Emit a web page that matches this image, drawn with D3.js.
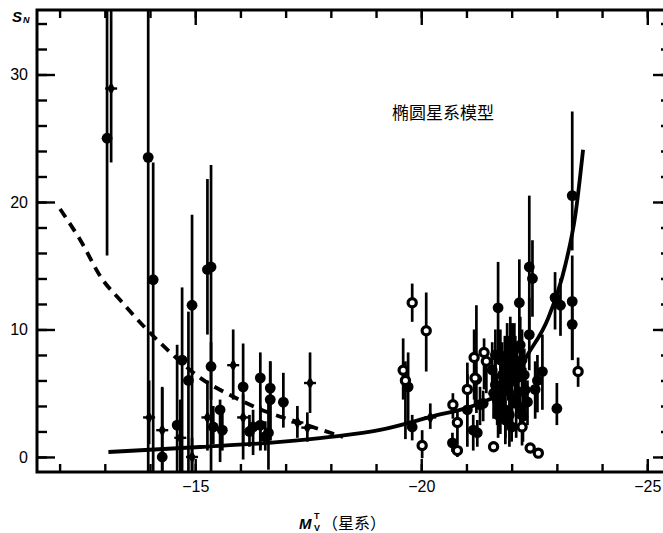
<!DOCTYPE html>
<html><head><meta charset="utf-8">
<script src="https://cdn.jsdelivr.net/npm/d3@7"></script>
<style>
html,body{margin:0;padding:0;background:#fff;}
svg{display:block;}
</style></head>
<body>
<svg id="chart" width="663" height="533"></svg>
<script>
// ---- data: [M_V, S_N, lower, upper] ----
const filledPts = [
 [-13.05,25.0,15.8,40],[-13.96,23.5,-1.2,40],[-14.07,13.9,-1.2,23.1],[-14.93,11.9,-1.2,19.0],
 [-15.27,14.7,9.6,21.8],[-15.35,14.9,-1.2,22.9],[-15.35,7.1,4.5,9.0],[-14.27,0.0,-1.2,5.5],
 [-14.6,2.5,-1.2,8.8],[-14.71,7.6,-1.2,13.3],[-14.85,6.0,-1.2,11.4],[-15.55,3.7,-0.4,4.5],
 [-16.06,5.5,-0.2,8.9],[-16.44,6.2,0.55,8.2],[-16.66,5.4,1.3,7.5],[-16.66,4.5,1.3,7.5],
 [-16.95,4.3,2.3,6.6],[-16.28,2.35,0.15,3.7],[-16.44,2.5,0.5,4.0],[-16.62,1.9,-1.0,4.5],
 [-16.2,2.0,0.8,3.3],[-16.55,1.6,0.5,2.8],[-15.4,2.35,1.0,4.0],[-15.6,2.1,0.5,3.5],
 [-19.71,5.5,2.7,8.2],[-19.8,2.35,1.3,3.3],[-20.69,1.1,0.4,1.9],[-21.02,3.7,0.8,7.4],
 [-21.15,2.1,0.5,3.3],[-21.24,1.9,0.8,2.9],[-21.3,4.1,2.5,5.5],[-21.37,4.2,2.8,5.2],
 [-21.7,11.7,8.2,15.3],[-22.39,14.9,9.4,20.5],[-22.46,14.0,11,17],[-22.17,12.1,8.4,15.5],
 [-22.39,9.6,6.8,12.5],[-22.96,12.5,10.0,14.5],[-23.08,11.9,9.5,14.0],[-23.34,12.2,7.6,15.8],
 [-23.34,10.4,7.6,12],[-23.34,20.5,16.2,27.1],[-23.0,3.8,2.5,5.8],[-22.68,6.7,3.7,9.6],
 [-22.57,6.0,3.5,8.0],[-22.52,5.3,3.0,7.5],[-22.0,2.35,1.2,3.5],
 [-21.57,6.82,4.5,9.0],[-21.64,5.65,3.5,8.0],[-21.68,4.47,2.5,6.5],[-21.75,7.61,5.5,10.0],
 [-21.79,6.43,4.0,9.0],[-21.81,5.1,2.8,7.5],[-21.86,3.69,1.5,5.5],[-21.9,8.0,6.0,10.5],
 [-21.92,6.98,4.5,9.5],[-21.97,5.88,3.5,8.5],[-22.01,4.63,2.0,7.0],[-22.06,8.39,6.0,10.5],
 [-22.08,7.22,5.0,9.5],[-22.12,6.2,4.0,8.5],[-22.15,5.1,3.0,7.0],[-22.19,3.84,2.0,5.5],
 [-22.23,7.61,5.5,10.0],[-22.28,6.43,4.5,8.5],[-22.3,5.25,3.0,7.0],[-22.35,4.31,2.5,6.0],
 [-21.86,2.9,1.0,4.5],[-21.7,3.29,1.5,5.0],[-21.97,8.78,6.5,11.0],[-22.19,8.78,6.5,11.0],
 [-21.64,8.0,6.0,10.0],[-21.75,4.0,1.8,6.0],[-21.95,3.3,0.8,5.0],[-22.1,4.2,1.5,6.5],
 [-22.25,3.2,1.2,5.0],[-21.85,7.0,5.0,9.5],[-22.0,7.8,5.5,10.5],[-21.6,5.0,3.0,7.0]
];
const openPts = [
 [-19.8,12.1,10.6,13.6],[-20.11,9.9,6.7,12.9],[-19.6,6.8,4.5,9.3],[-19.65,6.0,1.4,7.5],
 [-20.02,0.9,-0.1,2.1],[-20.7,4.1,3.0,5.0],[-20.8,2.7,1.0,3.7],[-20.8,0.5,0.0,1.0],
 [-21.02,5.3,4.0,6.5],[-21.22,6.1,3.45,11.9],[-21.17,7.8,4.5,10.0],[-21.39,8.2,5.3,9.3],
 [-21.44,7.5,5.0,8.5],[-21.6,0.8,0.4,1.2],[-22.23,2.35,0.9,3.7],[-22.41,0.7,0.3,1.1],
 [-22.59,0.3,0.0,0.6],[-23.47,6.7,5.5,7.8],[-21.19,6.2,4.0,7.5]
];
const crossPts = [
 [-13.14,28.9,23.1,40],[-13.98,3.1,1.0,6.0],[-14.27,2.1,-1.2,5.4],[-14.67,1.5,-1.2,4.5],
 [-14.93,0.0,-1.2,1.5],[-15.27,3.1,0.5,6.0],[-15.84,7.2,4.5,10.0],[-16.06,3.1,0.9,4.9],
 [-17.54,5.8,3.45,8.2],[-17.26,2.7,1.5,4.0],[-17.48,2.3,1.2,3.5],[-20.2,3.1,2.2,4.2]
];
const ellipModelM = [-13.08,-15.11,-16.88,-17.99,-19.09,-20.2,-21.31,-21.86,-22.1,-22.35,-22.81,-23.19,-23.41,-23.58];
const ellipModelS = [0.39,0.78,1.18,1.57,2.12,3.14,4.24,5.3,6.5,8.0,10.9,15.1,19.0,24.1];
const dwarfModelM = [-12.01,-12.46,-12.94,-13.34,-13.94,-14.51,-15.11,-15.77,-16.59,-17.32,-18.27];
const dwarfModelS = [19.45,17.0,13.96,12.31,9.96,8.0,6.2,4.86,3.53,2.67,1.57];
const xMajorTicks = [-15,-20,-25];
const xMinorTicks = d3.range(-12,-26,-1);
const yMajorTicks = [0,10,20,30];
const yMinorTicks = d3.range(0,36,2);
const annotation = "椭圆星系模型";

// ---- layout ----
const L=37, R=664, T=10, B=472;
const x = d3.scaleLinear().domain([-11.5,-25.37]).range([L,R]);
const y = d3.scaleLinear().domain([-1.18,35.06]).range([B,T]);
const svg = d3.select("#chart");
const font = "'Liberation Sans', Arial, sans-serif";

svg.append("defs").append("clipPath").attr("id","clip")
  .append("rect").attr("x",L).attr("y",T).attr("width",R-L).attr("height",B-T);
const plot = svg.append("g").attr("clip-path","url(#clip)");

// error bars
const allPts = filledPts.concat(openPts, crossPts);
plot.append("g").selectAll("line").data(allPts).join("line")
  .attr("x1",d=>x(d[0])).attr("x2",d=>x(d[0]))
  .attr("y1",d=>y(d[2])).attr("y2",d=>y(d[3]))
  .attr("stroke","#000").attr("stroke-width",2.7);

// models
const solidData = ellipModelM.map((m,i)=>[m,ellipModelS[i]]);
const dashData = dwarfModelM.map((m,i)=>[m,dwarfModelS[i]]);
const line = d3.line().x(d=>x(d[0])).y(d=>y(d[1])).curve(d3.curveMonotoneX);
plot.append("path").attr("d",line(solidData)).attr("fill","none")
  .attr("stroke","#000").attr("stroke-width",3.8);
plot.append("path").attr("d",line(dashData)).attr("fill","none")
  .attr("stroke","#000").attr("stroke-width",3.8).attr("stroke-dasharray","10,7");

// markers
plot.append("g").selectAll("circle").data(filledPts).join("circle")
  .attr("cx",d=>x(d[0])).attr("cy",d=>y(d[1])).attr("r",5.4).attr("fill","#000");
plot.append("g").selectAll("circle").data(openPts).join("circle")
  .attr("cx",d=>x(d[0])).attr("cy",d=>y(d[1])).attr("r",4.1)
  .attr("fill","#fff").attr("stroke","#000").attr("stroke-width",3.2);
const cg = plot.append("g").selectAll("g").data(crossPts).join("g")
  .attr("transform",d=>`translate(${x(d[0])},${y(d[1])})`);
cg.append("path").attr("d",d3.symbol().type(d3.symbolDiamond).size(48)).attr("fill","#000");
cg.append("line").attr("x1",-6).attr("x2",6).attr("stroke","#000").attr("stroke-width",2.4);

// frame
svg.append("path").attr("d",`M${R},${T}H${L}V${B}H${R}`).attr("fill","none")
  .attr("stroke","#000").attr("stroke-width",3);

// axes
function styleAxis(g){
  g.select(".domain").remove();
  g.selectAll(".tick line").attr("stroke","#000").attr("stroke-width",2.4);
  g.selectAll("text").attr("font-family",font).attr("font-size",16).attr("fill","#000");
}
svg.append("g").attr("transform",`translate(${L},0)`)
  .call(d3.axisLeft(y).tickValues(yMinorTicks).tickSize(-10).tickFormat("")).call(styleAxis);
svg.append("g").attr("transform",`translate(${L},0)`)
  .call(d3.axisLeft(y).tickValues(yMajorTicks).tickSize(-18).tickPadding(9)).call(styleAxis);
svg.append("g").attr("transform",`translate(${R},0)`)
  .call(d3.axisRight(y).tickValues(yMinorTicks).tickSize(-3).tickFormat("")).call(styleAxis);
svg.append("g").attr("transform",`translate(${R},0)`)
  .call(d3.axisRight(y).tickValues(yMajorTicks).tickSize(-11).tickFormat("")).call(styleAxis);
svg.append("g").attr("transform",`translate(0,${B})`)
  .call(d3.axisBottom(x).tickValues(xMinorTicks).tickSize(-8).tickFormat("")).call(styleAxis);
svg.append("g").attr("transform",`translate(0,${B})`)
  .call(d3.axisBottom(x).tickValues(xMajorTicks).tickSize(-13).tickPadding(9)
    .tickFormat(d=>"\u2212"+Math.abs(d))).call(styleAxis);
svg.append("g").attr("transform",`translate(0,${T})`)
  .call(d3.axisTop(x).tickValues(xMinorTicks).tickSize(-8).tickFormat("")).call(styleAxis);
svg.append("g").attr("transform",`translate(0,${T})`)
  .call(d3.axisTop(x).tickValues(xMajorTicks).tickSize(-15).tickFormat("")).call(styleAxis);

// axis titles
svg.append("text").attr("x",12).attr("y",22).attr("font-family",font)
  .attr("font-size",15).attr("font-style","italic").attr("font-weight","bold").text("S");
svg.append("text").attr("x",23).attr("y",23).attr("font-family",font)
  .attr("font-size",9).attr("font-style","italic").attr("font-weight","bold").text("N");
svg.append("text").attr("x",299).attr("y",529).attr("font-family",font)
  .attr("font-size",15).attr("font-style","italic").attr("font-weight","bold").text("M");
svg.append("text").attr("x",314).attr("y",519).attr("font-family",font)
  .attr("font-size",9).attr("font-weight","bold").text("T");
svg.append("text").attr("x",314).attr("y",531).attr("font-family",font)
  .attr("font-size",9).attr("font-weight","bold").text("V");
svg.append("text").attr("x",322).attr("y",529).attr("font-family","'Noto Sans CJK SC', sans-serif")
  .attr("font-size",16).text("（星系）");

// annotation
svg.append("text").attr("x",392).attr("y",119).attr("font-family","'Noto Sans CJK SC', sans-serif")
  .attr("font-size",17).text(annotation);
</script>
</body></html>
